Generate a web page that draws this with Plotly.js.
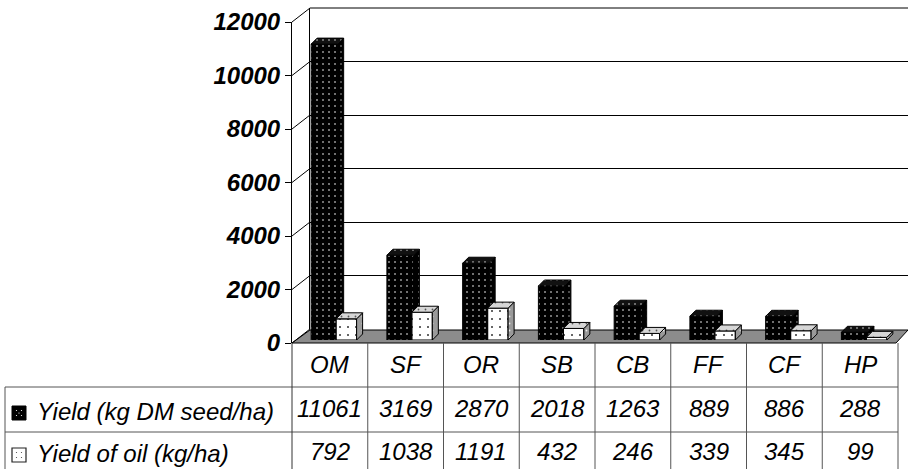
<!DOCTYPE html>
<html>
<head>
<meta charset="utf-8">
<script src="https://cdn.plot.ly/plotly-3.0.1.min.js"></script>
<style>
  html, body { margin: 0; padding: 0; background: #fff; }
  #chart { width: 908px; height: 469px; }
</style>
</head>
<body>
<div id="chart"></div>
<script>
// Crop yields per category
const categories = ['OM', 'SF', 'OR', 'SB', 'CB', 'FF', 'CF', 'HP'];
const seedYield = [11061, 3169, 2870, 2018, 1263, 889, 886, 288];
const oilYield = [792, 1038, 1191, 432, 246, 339, 345, 99];
const seriesNames = ['Yield (kg DM seed/ha)', 'Yield of oil (kg/ha)'];
const yTicks = [0, 2000, 4000, 6000, 8000, 10000, 12000];
const yMax = 12000;

// ---- frame geometry (pixels) ----
const W = 908, H = 469;
const px = x => x / W;
const py = y => 1 - y / H;
const G = {
  frontLeft: 292, frontRight: 898, frontTop: 22, floorFront: 343,
  wallDX: 18, wallDY: 14,      // back wall sits up/right of the front plane
  barDX: 4, barDY: 3,          // columns stand slightly behind the front edge
  faceDX: 6, faceDY: 6,        // column depth (top / side faces)
  tableLeft: 5, row1: 387, row2: 432, tableBottom: 469
};
const nCat = categories.length;
const colW = (G.frontRight - G.frontLeft) / nCat;
const pxPerUnit = (G.floorFront - G.frontTop) / yMax;
const idx = categories.map((c, i) => i);

const FONT = 'Liberation Sans, Arial, sans-serif';
const LINE = '#000';
const TABLE_LINE = '#555';

// column placement inside each category slot
const seedOff = -0.30, seedWid = 0.35;
const oilOff = 0.03, oilWid = 0.27;

// top and side faces of the 3-D columns
const fdx = G.faceDX / colW;
const fdy = G.faceDY / pxPerUnit;
function faces(vals, off, wid) {
  const top = { x: [], y: [] }, side = { x: [], y: [] };
  vals.forEach((v, i) => {
    const x0 = i + off, x1 = x0 + wid;
    top.x.push(x0, x0 + fdx, x1 + fdx, x1, x0, null);
    top.y.push(v, v + fdy, v + fdy, v, v, null);
    side.x.push(x1, x1 + fdx, x1 + fdx, x1, x1, null);
    side.y.push(0, fdy, v + fdy, v, 0, null);
  });
  return { top, side };
}
const seedFaces = faces(seedYield, seedOff, seedWid);
const oilFaces = faces(oilYield, oilOff, oilWid);

const darkPattern = { shape: '.', bgcolor: '#000', fgcolor: '#fff', size: 6, solidity: 0.06 };
const lightPattern = { shape: '.', bgcolor: '#fff', fgcolor: '#333', size: 8, solidity: 0.05 };

function faceTrace(f, xa, ya, fill, pattern) {
  return {
    type: 'scatter', mode: 'lines', x: f.x, y: f.y, xaxis: xa, yaxis: ya,
    fill: 'toself', fillcolor: fill, fillpattern: pattern,
    line: { color: LINE, width: 1 }, hoverinfo: 'skip', showlegend: false
  };
}

const traces = [
  // front axis and back wall carriers
  { type: 'scatter', x: [], y: [], xaxis: 'x', yaxis: 'y', showlegend: false, hoverinfo: 'skip' },
  { type: 'scatter', x: [], y: [], xaxis: 'x2', yaxis: 'y2', showlegend: false, hoverinfo: 'skip' },
  // seed yield columns
  {
    type: 'bar', name: seriesNames[0], x: idx, y: seedYield, xaxis: 'x3', yaxis: 'y3',
    offset: seedOff, width: seedWid,
    marker: { color: '#000', pattern: darkPattern, line: { color: LINE, width: 1 } },
    showlegend: false
  },
  faceTrace(seedFaces.side, 'x3', 'y3', '#000', { shape: '.', bgcolor: '#000', fgcolor: '#bbb', size: 6, solidity: 0.05 }),
  faceTrace(seedFaces.top, 'x3', 'y3', '#111', { shape: '.', bgcolor: '#111', fgcolor: '#ddd', size: 6, solidity: 0.06 }),
  // oil yield columns (drawn in front)
  {
    type: 'bar', name: seriesNames[1], x: idx, y: oilYield, xaxis: 'x4', yaxis: 'y4',
    offset: oilOff, width: oilWid,
    marker: { color: '#fff', pattern: lightPattern, line: { color: LINE, width: 1.2 } },
    showlegend: false
  },
  faceTrace(oilFaces.side, 'x4', 'y4', '#9a9a9a', { shape: '.', bgcolor: '#9a9a9a', fgcolor: '#eee', size: 7, solidity: 0.05 }),
  faceTrace(oilFaces.top, 'x4', 'y4', '#d6d6d6', { shape: '.', bgcolor: '#d6d6d6', fgcolor: '#555', size: 7, solidity: 0.05 })
];

// ---- shapes: floor, depth lines, table grid, legend keys ----
const shapes = [];
// floor
shapes.push({
  type: 'path', xref: 'paper', yref: 'paper', layer: 'below',
  path: `M ${px(G.frontLeft)},${py(G.floorFront)} L ${px(896)},${py(G.floorFront)} L ${px(908)},${py(330)} L ${px(G.frontLeft + G.wallDX)},${py(330)} Z`,
  fillcolor: '#8c8c8c', line: { color: LINE, width: 1 }
});
// depth lines from each front tick to the back wall
yTicks.forEach(v => {
  const yf = G.floorFront - v * pxPerUnit;
  shapes.push({
    type: 'line', xref: 'paper', yref: 'paper',
    x0: px(G.frontLeft), y0: py(yf), x1: px(G.frontLeft + G.wallDX), y1: py(yf - G.wallDY),
    line: { color: LINE, width: 1 }
  });
});
// back wall top edge
shapes.push({
  type: 'line', xref: 'paper', yref: 'paper',
  x0: px(G.frontLeft + G.wallDX), y0: py(G.frontTop - G.wallDY), x1: 1, y1: py(G.frontTop - G.wallDY),
  line: { color: LINE, width: 1 }
});
// table: front edge, rows, columns
const hline = (x0, x1, y, c) => shapes.push({ type: 'line', xref: 'paper', yref: 'paper', x0: px(x0), x1: px(x1), y0: py(y), y1: py(y), line: { color: c, width: 1 } });
const vline = (x, y0, y1, c) => shapes.push({ type: 'line', xref: 'paper', yref: 'paper', x0: px(x), x1: px(x), y0: py(y0), y1: py(y1), line: { color: c, width: 1 } });
hline(G.tableLeft, G.frontRight, G.row1, TABLE_LINE);
hline(G.tableLeft, G.frontRight, G.row2, TABLE_LINE);
vline(G.tableLeft, G.row1, G.tableBottom, TABLE_LINE);
vline(G.frontLeft, G.floorFront, G.tableBottom, '#333');
for (let k = 1; k <= nCat; k++) vline(G.frontLeft + k * colW, G.floorFront, G.tableBottom, TABLE_LINE);
// legend keys
shapes.push({ type: 'rect', xref: 'paper', yref: 'paper', x0: px(12), x1: px(26), y0: py(420), y1: py(406), fillcolor: '#000', line: { color: '#000', width: 1 } });
shapes.push({ type: 'rect', xref: 'paper', yref: 'paper', x0: px(12), x1: px(26), y0: py(462), y1: py(448), fillcolor: '#fff', line: { color: '#222', width: 1.2 } });
[[16.5, 410.5], [21.5, 410.5], [19, 413], [16.5, 415.5], [21.5, 415.5]].forEach(([x, y]) => shapes.push({
  type: 'circle', xref: 'paper', yref: 'paper', x0: px(x - 0.6), x1: px(x + 0.6), y0: py(y + 0.6), y1: py(y - 0.6),
  fillcolor: '#fff', line: { width: 0 }
}));
[[16.5, 452.5], [21.5, 452.5], [16.5, 457.5], [21.5, 457.5]].forEach(([x, y]) => shapes.push({
  type: 'circle', xref: 'paper', yref: 'paper', x0: px(x - 0.6), x1: px(x + 0.6), y0: py(y + 0.6), y1: py(y - 0.6),
  fillcolor: '#444', line: { width: 0 }
}));

// ---- table text ----
const tableFont = { family: FONT, size: 24, color: '#000', style: 'italic' };
const annotations = [];
categories.forEach((c, i) => annotations.push({
  xref: 'x', yref: 'paper', x: i, y: py(364), text: c, showarrow: false,
  xanchor: 'center', yanchor: 'middle', font: tableFont
}));
seedYield.forEach((v, i) => annotations.push({
  xref: 'x', yref: 'paper', x: i, y: py(408), text: String(v), showarrow: false,
  xanchor: 'center', yanchor: 'middle', font: tableFont
}));
oilYield.forEach((v, i) => annotations.push({
  xref: 'x', yref: 'paper', x: i, y: py(451), text: String(v), showarrow: false,
  xanchor: 'center', yanchor: 'middle', font: tableFont
}));
annotations.push({ xref: 'paper', yref: 'paper', x: px(35), y: py(411), text: seriesNames[0], showarrow: false, xanchor: 'left', yanchor: 'middle', font: tableFont });
annotations.push({ xref: 'paper', yref: 'paper', x: px(35), y: py(453), text: seriesNames[1], showarrow: false, xanchor: 'left', yanchor: 'middle', font: tableFont });

const catRange = [-0.5, nCat - 0.5];
const hiddenX = { range: catRange, visible: false, fixedrange: true };

const layout = {
  width: W, height: H,
  margin: { l: 0, r: 0, t: 0, b: 0 },
  paper_bgcolor: '#fff', plot_bgcolor: 'rgba(0,0,0,0)',
  showlegend: false,
  // front value axis
  xaxis: Object.assign({}, hiddenX, { domain: [px(G.frontLeft), px(G.frontRight)], anchor: 'y' }),
  yaxis: {
    domain: [py(G.floorFront), py(G.frontTop)], anchor: 'x', range: [0, yMax],
    tickvals: yTicks, ticktext: yTicks.map(String),
    showgrid: false, zeroline: false, showline: true, linecolor: LINE, linewidth: 1,
    ticks: 'outside', ticklen: 6, tickcolor: LINE,
    tickfont: { family: FONT, size: 24, color: '#000', weight: 'bold', style: 'italic' }
  },
  // back wall with gridlines
  xaxis2: Object.assign({}, hiddenX, { domain: [px(G.frontLeft + G.wallDX), 1], anchor: 'y2' }),
  yaxis2: {
    domain: [py(G.floorFront - G.wallDY), py(G.frontTop - G.wallDY)], anchor: 'x2', range: [0, yMax],
    tickvals: yTicks.slice(1), showticklabels: false, ticks: '',
    showgrid: true, gridcolor: LINE, gridwidth: 1, zeroline: false,
    showline: true, linecolor: LINE, linewidth: 1
  },
  // columns
  xaxis3: Object.assign({}, hiddenX, { domain: [px(G.frontLeft + G.barDX), px(G.frontRight + G.barDX)], anchor: 'y3' }),
  yaxis3: {
    domain: [py(G.floorFront - G.barDY), py(G.frontTop - G.barDY)], anchor: 'x3', range: [0, yMax],
    visible: false
  },
  xaxis4: Object.assign({}, hiddenX, { overlaying: 'x3', anchor: 'y4' }),
  yaxis4: { overlaying: 'y3', anchor: 'x4', range: [0, yMax], visible: false },
  shapes: shapes,
  annotations: annotations
};

Plotly.newPlot('chart', traces, layout, { staticPlot: true, displayModeBar: false });
</script>
</body>
</html>
